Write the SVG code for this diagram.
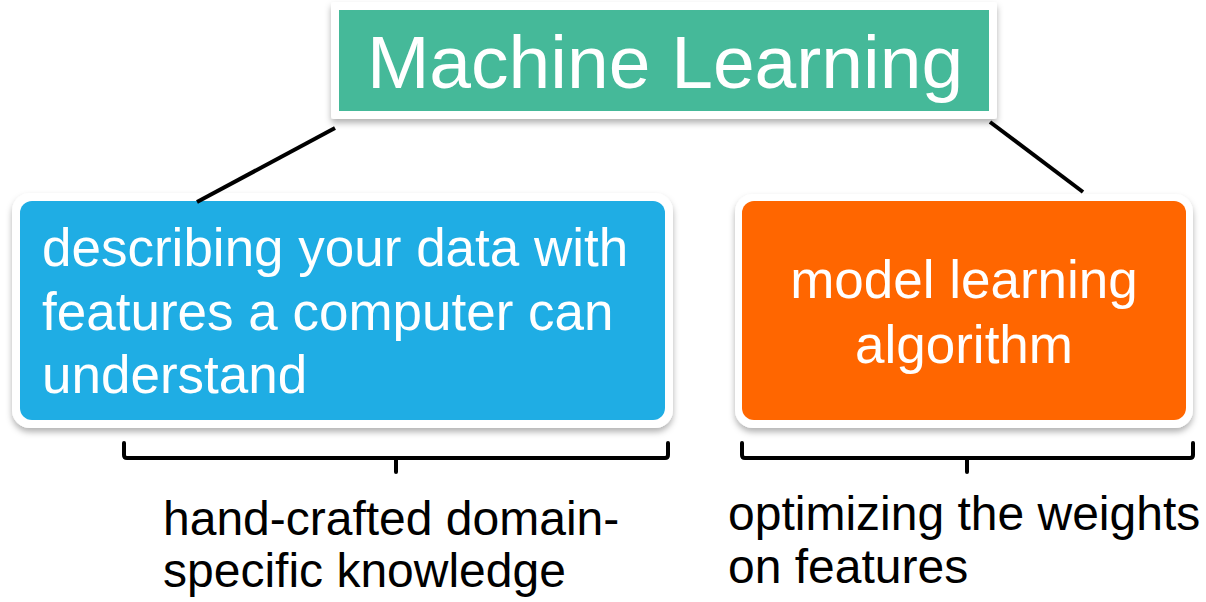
<svg xmlns="http://www.w3.org/2000/svg" width="1206" height="602" viewBox="0 0 1206 602">
<defs>
<filter id="sh" x="-5%" y="-5%" width="110%" height="115%">
<feDropShadow dx="0" dy="4" stdDeviation="3" flood-color="#000" flood-opacity="0.3"/>
</filter>
<style>
.frame{fill:#fff;filter:url(#sh);}
.t{font-family:"Liberation Sans",Arial,sans-serif;fill:#fff;}
.b{font-family:"Liberation Sans",Arial,sans-serif;fill:#000;font-size:48px;}
.ln{stroke:#000;stroke-width:4;fill:none;}
.br{stroke:#000;stroke-width:4;fill:none;stroke-linejoin:round;stroke-linecap:round;}
</style>
</defs>
<g id="ml">
<rect class="frame" x="331" y="2" width="666" height="117" rx="3"/>
<rect x="339" y="10" width="650" height="101" fill="#45B999"/>
<text class="t" x="665" y="88" font-size="75" text-anchor="middle">Machine Learning</text>
</g>
<g id="features">
<rect class="frame" x="12" y="193" width="661" height="235" rx="18"/>
<rect x="20" y="201" width="645" height="219" rx="12" fill="#1FADE4"/>
<text class="t" font-size="53"><tspan x="42" y="266">describing your data with</tspan><tspan x="42" y="330">features a computer can</tspan><tspan x="42" y="393">understand</tspan></text>
</g>
<g id="model">
<rect class="frame" x="735" y="194" width="458" height="234" rx="18"/>
<rect x="742" y="201" width="444" height="219" rx="12" fill="#FF6600"/>
<text class="t" font-size="53" text-anchor="middle"><tspan x="964" y="298">model learning</tspan><tspan x="964" y="363">algorithm</tspan></text>
</g>
<g id="connectors">
<line class="ln" x1="335" y1="128" x2="197" y2="202"/>
<line class="ln" x1="990" y1="122" x2="1083" y2="192"/>
</g>
<g id="brace-left">
<path class="br" d="M124 443 V455 Q124 458 127 458 H665 Q668 458 668 455 V443 M396 458 V472"/>
<text class="b"><tspan x="163" y="535">hand-crafted domain-</tspan><tspan x="163" y="587">specific knowledge</tspan></text>
</g>
<g id="brace-right">
<path class="br" d="M742 443 V455 Q742 458 745 458 H1190 Q1193 458 1193 455 V443 M967 458 V472"/>
<text class="b"><tspan x="728" y="530">optimizing the weights</tspan><tspan x="728" y="583">on features</tspan></text>
</g>
</svg>
